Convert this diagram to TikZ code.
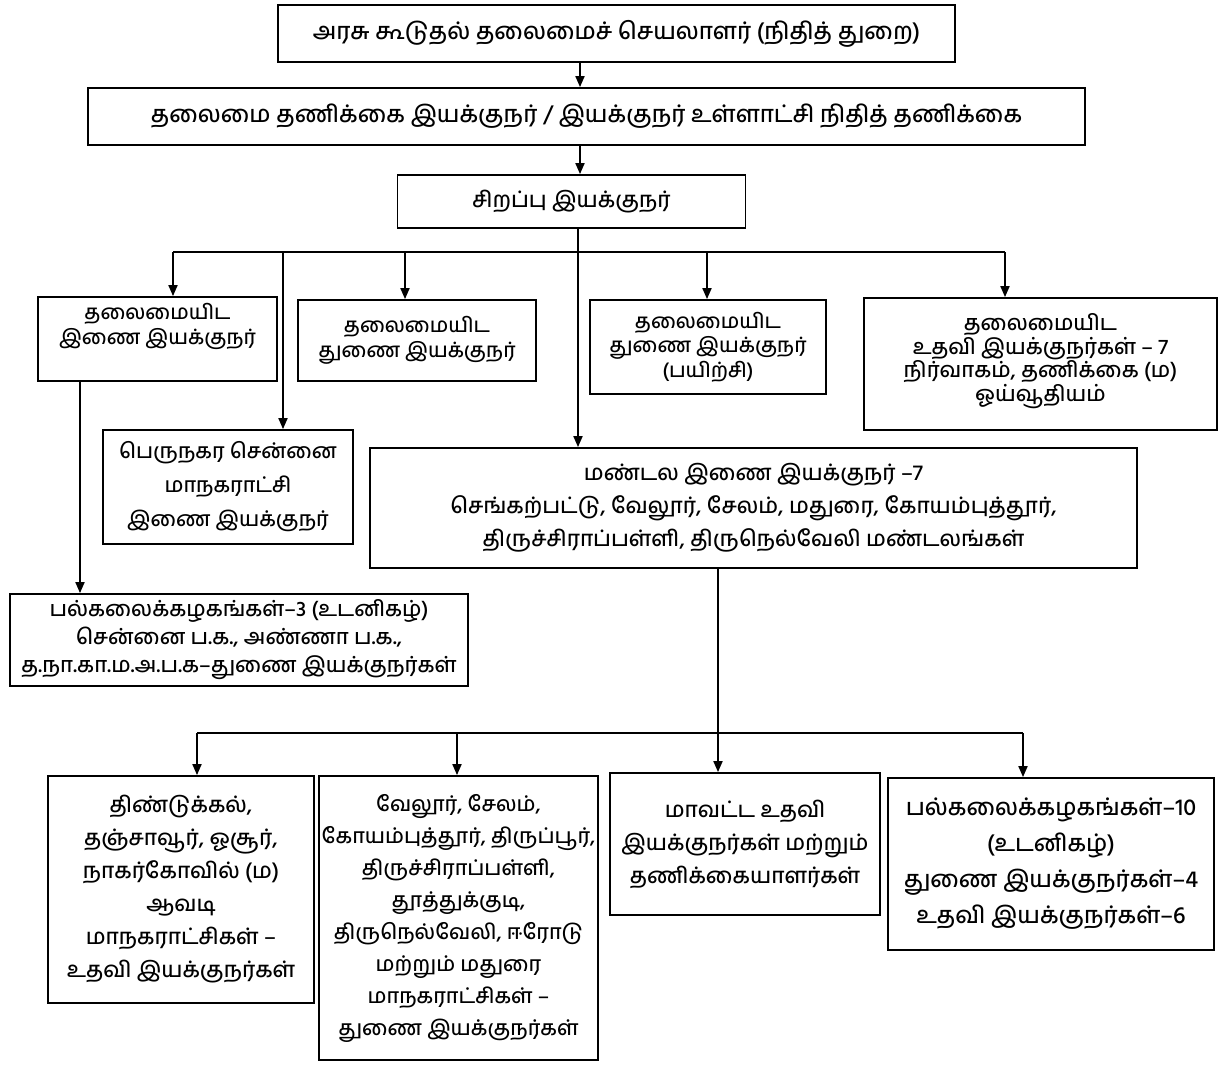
\documentclass[tikz,border=0pt]{standalone}
\usepackage{fontspec}
\setmainfont{Hind Madurai}[Script=Tamil,UprightFont=* Medium]
\usetikzlibrary{arrows.meta}
\begin{document}
\begin{tikzpicture}[x=1pt,y=1pt,
  box/.style={draw=black,line width=1.8pt,fill=white,align=center,inner sep=0pt,
     font=\fontsize{21}{33}\selectfont},
  rowfont/.style={font=\fontsize{20.5}{24.5}\selectfont},
  wire/.style={line width=1.8pt,draw=black},
  arr/.style={wire,-{Triangle[width=9pt,length=11pt]}}]
\useasboundingbox[fill=white] (0,0) rectangle (1224,-1068);

\node[box,minimum width=677,minimum height=57,font=\fontsize{23.5}{31}\selectfont] (top) at (616.5,-33.5)
  {அரசு கூடுதல் தலைமைச் செயலாளர் (நிதித் துறை)};
\node[box,minimum width=997,minimum height=57,font=\fontsize{23.5}{31}\selectfont] (hd) at (586.5,-116.5)
  {தலைமை தணிக்கை இயக்குநர் / இயக்குநர் உள்ளாட்சி நிதித் தணிக்கை};
\node[box,minimum width=348,minimum height=53,font=\fontsize{22}{31}\selectfont] (sp) at (571.5,-201.5)
  {சிறப்பு இயக்குநர்};

\node[box,rowfont,minimum width=239,minimum height=84] (b1) at (157.5,-339)
  {தலைமையிட\\இணை இயக்குநர்\\[6pt]};
\node[box,rowfont,minimum width=238,minimum height=81] (b2) at (417,-340.5)
  {தலைமையிட\\துணை இயக்குநர்};
\node[box,rowfont,minimum width=236,minimum height=94] (b3) at (708,-347)
  {தலைமையிட\\துணை இயக்குநர்\\(பயிற்சி)};
\node[box,font=\fontsize{21.5}{23.5}\selectfont,minimum width=353,minimum height=132] (b4) at (1040.5,-364)
  {தலைமையிட\\உதவி இயக்குநர்கள் – 7\\நிர்வாகம், தணிக்கை (ம)\\ஓய்வூதியம்\\[-10pt]};
\node[box,font=\fontsize{21}{34}\selectfont,minimum width=250,minimum height=114] (per) at (228,-487)
  {பெருநகர சென்னை\\மாநகராட்சி\\இணை இயக்குநர்};
\node[box,font=\fontsize{22}{33}\selectfont,minimum width=767,minimum height=120] (man) at (753.5,-508)
  {மண்டல இணை இயக்குநர் –7\\செங்கற்பட்டு, வேலூர், சேலம், மதுரை, கோயம்புத்தூர்,\\திருச்சிராப்பள்ளி, திருநெல்வேலி மண்டலங்கள்};
\node[box,font=\fontsize{21.5}{28}\selectfont,minimum width=458,minimum height=92] (pal3) at (239,-640)
  {பல்கலைக்கழகங்கள்–3 (உடனிகழ்)\\சென்னை ப.க., அண்ணா ப.க.,\\த.நா.கா.ம.அ.ப.க–துணை இயக்குநர்கள்};

\node[box,font=\fontsize{22}{33}\selectfont,minimum width=266,minimum height=227] (A) at (181,-889.5)
  {திண்டுக்கல்,\\தஞ்சாவூர், ஓசூர்,\\நாகர்கோவில் (ம)\\ஆவடி\\மாநகராட்சிகள் –\\உதவி இயக்குநர்கள்};
\node[box,font=\fontsize{21}{32}\selectfont,minimum width=279,minimum height=284] (B) at (458.5,-918)
  {வேலூர், சேலம்,\\கோயம்புத்தூர், திருப்பூர்,\\திருச்சிராப்பள்ளி,\\தூத்துக்குடி,\\திருநெல்வேலி, ஈரோடு\\மற்றும் மதுரை\\மாநகராட்சிகள் –\\துணை இயக்குநர்கள்};
\node[box,font=\fontsize{22}{33}\selectfont,minimum width=270,minimum height=142] (C) at (745,-844)
  {மாவட்ட உதவி\\இயக்குநர்கள் மற்றும்\\தணிக்கையாளர்கள்};
\node[box,font=\fontsize{23.5}{36}\selectfont,minimum width=326,minimum height=172] (D) at (1051,-864)
  {பல்கலைக்கழகங்கள்–10\\(உடனிகழ்)\\துணை இயக்குநர்கள்–4\\உதவி இயக்குநர்கள்–6};

% connectors
\coordinate (a1) at (580,0);
\draw[arr] (top.south -| a1) -- (hd.north -| a1);
\draw[arr] (hd.south -| a1) -- (sp.north -| a1);

\coordinate (trunk) at (578,-252);
\coordinate (bL) at (173,-252);
\coordinate (bP) at (283,-252);
\coordinate (bQ) at (405,-252);
\coordinate (bS) at (707,-252);
\coordinate (bR) at (1005,-252);
\draw[wire] (sp.south -| trunk) -- (trunk);
\draw[wire] (bL) -- (bR);
\draw[arr] (trunk) -- (trunk |- man.north);
\draw[arr] (bL) -- (bL |- b1.north);
\draw[arr] (bP) -- (bP |- per.north);
\draw[arr] (bQ) -- (bQ |- b2.north);
\draw[arr] (bS) -- (bS |- b3.north);
\draw[arr] (bR) -- (bR |- b4.north);

\coordinate (c1) at (80,0);
\draw[arr] (b1.south -| c1) -- (pal3.north -| c1);

\coordinate (m) at (718,-733);
\coordinate (mA) at (197,-733);
\coordinate (mB) at (457,-733);
\coordinate (mD) at (1023,-733);
\draw[wire] (man.south -| m) -- (m);
\draw[wire] (mA) -- (mD);
\draw[arr] (mA) -- (mA |- A.north);
\draw[arr] (mB) -- (mB |- B.north);
\draw[arr] (m) -- (m |- C.north);
\draw[arr] (mD) -- (mD |- D.north);
\end{tikzpicture}
\end{document}
